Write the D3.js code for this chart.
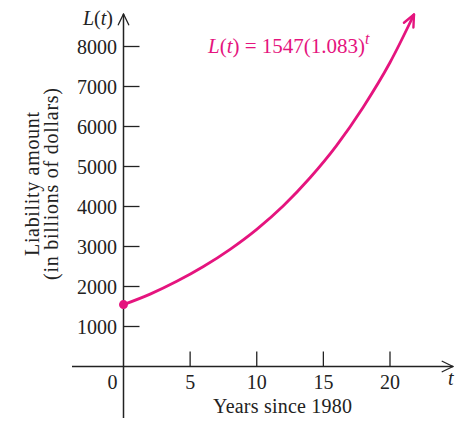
<!DOCTYPE html>
<html>
<head>
<meta charset="utf-8">
<script src="https://cdn.jsdelivr.net/npm/d3@7"></script>
<style>
  body { margin: 0; background: #fff; }
  svg { display: block; }
</style>
</head>
<body>
<div id="chart"></div>
<script>
// values
var years = [0, 2, 4, 6, 8, 10, 12, 14, 16, 18, 20, 21.8];
var amounts = [1547, 1810, 2130, 2500, 2930, 3430, 4020, 4720, 5530, 6490, 7600, 8800];
var xTicks = [0, 5, 10, 15, 20];
var yTicks = [1000, 2000, 3000, 4000, 5000, 6000, 7000, 8000];
var yLabel = ["Liability amount", "(in billions of dollars)"];
var xLabel = "Years since 1980";

var W = 460, H = 421;
var pink = "#e5147e";
var ink = "#222";
var font = "'Liberation Serif', 'DejaVu Serif', serif";

var x = d3.scaleLinear().domain([0, 20]).range([123.5, 390]);
var y = d3.scaleLinear().domain([0, 8000]).range([366.5, 46.5]);

var svg = d3.select("#chart").append("svg").attr("width", W).attr("height", H);

// axes lines
svg.append("line").attr("x1", 72).attr("x2", 453).attr("y1", y(0)).attr("y2", y(0))
  .attr("stroke", ink).attr("stroke-width", 1.5);
svg.append("line").attr("x1", x(0)).attr("x2", x(0)).attr("y1", 418).attr("y2", 14)
  .attr("stroke", ink).attr("stroke-width", 1.5);

// open arrow heads
function chevron(tipX, tipY, angle, len, spread, color, width) {
  [-1, 1].forEach(function (s) {
    var a = angle + Math.PI + s * spread;
    svg.append("line")
      .attr("x1", tipX).attr("y1", tipY)
      .attr("x2", tipX + len * Math.cos(a)).attr("y2", tipY + len * Math.sin(a))
      .attr("stroke", color).attr("stroke-width", width).attr("stroke-linecap", "round");
  });
}
chevron(453, y(0), 0, 12, 0.45, ink, 1.3);
chevron(x(0), 14, -Math.PI / 2, 12, 0.45, ink, 1.3);

// ticks
svg.selectAll(".xt").data(xTicks.filter(function (d) { return d > 0; })).enter()
  .append("line").attr("x1", function (d) { return x(d); }).attr("x2", function (d) { return x(d); })
  .attr("y1", y(0)).attr("y2", y(0) - 15).attr("stroke", ink).attr("stroke-width", 1.3);
svg.selectAll(".yt").data(yTicks).enter()
  .append("line").attr("x1", x(0)).attr("x2", x(0) + 16)
  .attr("y1", function (d) { return y(d); }).attr("y2", function (d) { return y(d); })
  .attr("stroke", ink).attr("stroke-width", 1.3);

// tick labels
svg.selectAll(".xl").data(xTicks).enter()
  .append("text")
  .attr("x", function (d) { return d === 0 ? x(d) - 11 : x(d); })
  .attr("y", 389)
  .attr("text-anchor", "middle")
  .attr("font-family", font).attr("font-size", 20).attr("fill", ink)
  .text(function (d) { return d; });
svg.selectAll(".yl").data(yTicks).enter()
  .append("text")
  .attr("x", 117)
  .attr("y", function (d) { return y(d) + 7.5; })
  .attr("text-anchor", "end")
  .attr("font-family", font).attr("font-size", 20).attr("fill", ink)
  .text(function (d) { return d; });

// axis titles
svg.append("text").attr("x", 282.5).attr("y", 413).attr("text-anchor", "middle")
  .attr("font-family", font).attr("font-size", 20).attr("fill", ink)
  .attr("textLength", 139).attr("lengthAdjust", "spacing").text(xLabel);
var yLabelLen = [144, 192];
yLabel.forEach(function (s, i) {
  svg.append("text")
    .attr("transform", "translate(" + (39 + i * 19) + ",184) rotate(-90)")
    .attr("text-anchor", "middle")
    .attr("font-family", font).attr("font-size", 20).attr("fill", ink)
    .attr("textLength", yLabelLen[i]).attr("lengthAdjust", "spacing").text(s);
});
svg.append("text").attr("x", 113).attr("y", 25).attr("text-anchor", "end")
  .attr("font-family", font).attr("font-size", 20).attr("fill", ink)
  .html("<tspan font-style='italic'>L</tspan>(<tspan font-style='italic'>t</tspan>)");
svg.append("text").attr("x", 448).attr("y", 385)
  .attr("font-family", font).attr("font-size", 20).attr("font-style", "italic").attr("fill", ink).text("t");

// curve
var line = d3.line()
  .x(function (d, i) { return x(years[i]); })
  .y(function (d) { return y(d); })
  .curve(d3.curveMonotoneX);
svg.append("path").attr("d", line(amounts))
  .attr("fill", "none").attr("stroke", pink).attr("stroke-width", 2.8);

var n = years.length;
var ex = x(years[n - 1]), ey = y(amounts[n - 1]);
var ang = Math.atan2(ey - y(amounts[n - 2] + (amounts[n - 1] - amounts[n - 2]) * 0.7),
                     ex - x(years[n - 2] + (years[n - 1] - years[n - 2]) * 0.7));
chevron(ex, ey, ang, 13, 0.42, pink, 2.4);

svg.append("circle").attr("cx", x(years[0])).attr("cy", y(amounts[0])).attr("r", 4.5).attr("fill", pink);

// equation label
svg.append("text").attr("x", 208).attr("y", 53)
  .attr("font-family", font).attr("font-size", 21).attr("fill", pink)
  .html("<tspan font-style='italic'>L</tspan>(<tspan font-style='italic'>t</tspan>) = 1547(1.083)<tspan font-style='italic' font-size='16' dy='-9'>t</tspan>");
</script>
</body>
</html>
